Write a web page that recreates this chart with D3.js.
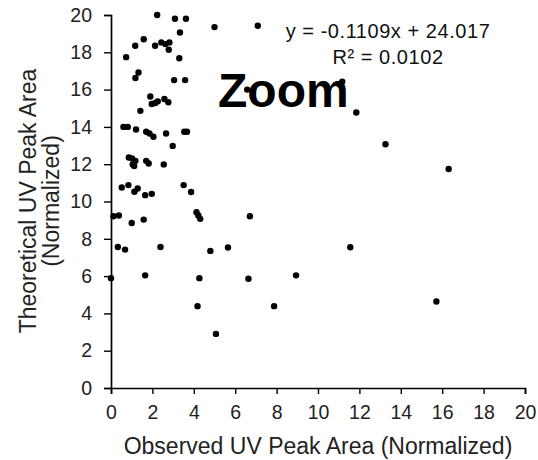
<!DOCTYPE html>
<html><head><meta charset="utf-8">
<script src="https://cdn.jsdelivr.net/npm/d3@7"></script>
<style>html,body{margin:0;padding:0;background:#fff;}svg{display:block;font-family:"Liberation Sans",Arial,sans-serif;}</style>
</head><body>
<svg id="c" width="538" height="460"></svg>
<script>
const observed = [2.23,3.09,3.62,3.33,1.58,1.17,2.13,2.43,2.63,2.82,2.79,0.73,3.30,1.33,1.18,3.05,3.58,1.90,1.97,2.14,2.26,2.58,2.77,1.42,0.60,0.81,1.21,1.70,1.86,2.05,2.66,3.54,3.67,2.98,0.86,1.02,1.18,1.05,1.12,1.70,1.82,2.55,0.52,0.84,1.29,1.13,1.65,1.97,3.51,3.87,0.12,0.38,1.00,1.58,4.13,4.22,4.31,0.33,0.68,2.39,0.00,1.65,4.27,4.18,5.07,6.71,4.80,5.65,6.64,8.94,7.88,5.00,7.09,6.58,11.17,11.85,13.26,16.31,11.56,15.72];
const theoretical = [20.0,19.8,19.8,19.06,18.7,18.35,18.35,18.53,18.44,18.53,18.14,17.74,17.68,16.92,16.62,16.51,16.51,15.63,15.23,15.28,15.37,15.5,15.32,14.86,14.0,14.0,13.86,13.74,13.65,13.47,13.65,13.74,13.74,12.98,12.36,12.31,12.18,11.99,11.9,12.18,12.04,11.99,10.75,10.88,10.7,10.52,10.34,10.41,10.88,10.51,9.21,9.25,8.85,9.03,9.43,9.25,9.07,7.56,7.42,7.56,5.89,6.04,5.89,4.39,2.9,9.21,7.35,7.53,5.86,6.04,4.39,19.35,19.42,16.0,16.43,14.77,13.07,11.74,7.55,4.64];
const xTicks = [0,2,4,6,8,10,12,14,16,18,20];
const yTicks = [0,2,4,6,8,10,12,14,16,18,20];
const xTitle = "Observed UV Peak Area (Normalized)";
const yTitleLines = ["Theoretical UV Peak Area", "(Normalized)"];
const equationLines = ["y = -0.1109x + 24.017", "R² = 0.0102"];
const overlayLabel = "Zoom";

const svg = d3.select("#c");
svg.append("rect").attr("width",538).attr("height",460).attr("fill","#fff");

const x = d3.scaleLinear().domain([0,20]).range([111,525]);
const y = d3.scaleLinear().domain([0,20]).range([388,15]);

const xAxis = svg.append("g").attr("transform","translate(0,388)")
  .call(d3.axisBottom(x).tickValues(xTicks).tickSize(6).tickPadding(11).tickFormat(d3.format("d")));
const yAxis = svg.append("g").attr("transform","translate(111,0)")
  .call(d3.axisLeft(y).tickValues(yTicks).tickSize(7).tickPadding(12).tickFormat(d3.format("d")));
[xAxis,yAxis].forEach(a=>{
  a.select(".domain").attr("stroke","#000").attr("stroke-width",1.7);
  a.selectAll(".tick line").attr("stroke","#000").attr("stroke-width",1.4);
  a.selectAll(".tick text").attr("fill","#222").style("font-size","19.5px").style("font-family","'Liberation Sans',Arial,sans-serif");
});

svg.append("text").attr("x",318).attr("y",454).attr("text-anchor","middle")
  .attr("fill","#222").style("font-size","23px").text(xTitle);

const yt = svg.append("text").attr("transform","translate(35.7,201) rotate(-90)").attr("text-anchor","middle")
  .attr("fill","#222").style("font-size","23px");
yt.selectAll("tspan").data(yTitleLines).join("tspan").attr("x",0).attr("dy",(d,i)=>i===0?0:23).text(d=>d);

svg.append("text").attr("x",218).attr("y",107).attr("fill","#000")
  .style("font-size","48px").style("font-weight","bold").text(overlayLabel);

svg.append("g").selectAll("text").data(equationLines).join("text")
  .attr("x",388).attr("y",(d,i)=>38+i*26).attr("text-anchor","middle").attr("fill","#111")
  .style("font-size","20px").style("letter-spacing","0.55px").text(d=>d);

svg.append("g").selectAll("circle").data(observed.map((v,i)=>[v,theoretical[i]])).join("circle")
  .attr("cx",d=>x(d[0])).attr("cy",d=>y(d[1])).attr("r",3.2).attr("fill","#000");
</script>
</body></html>
